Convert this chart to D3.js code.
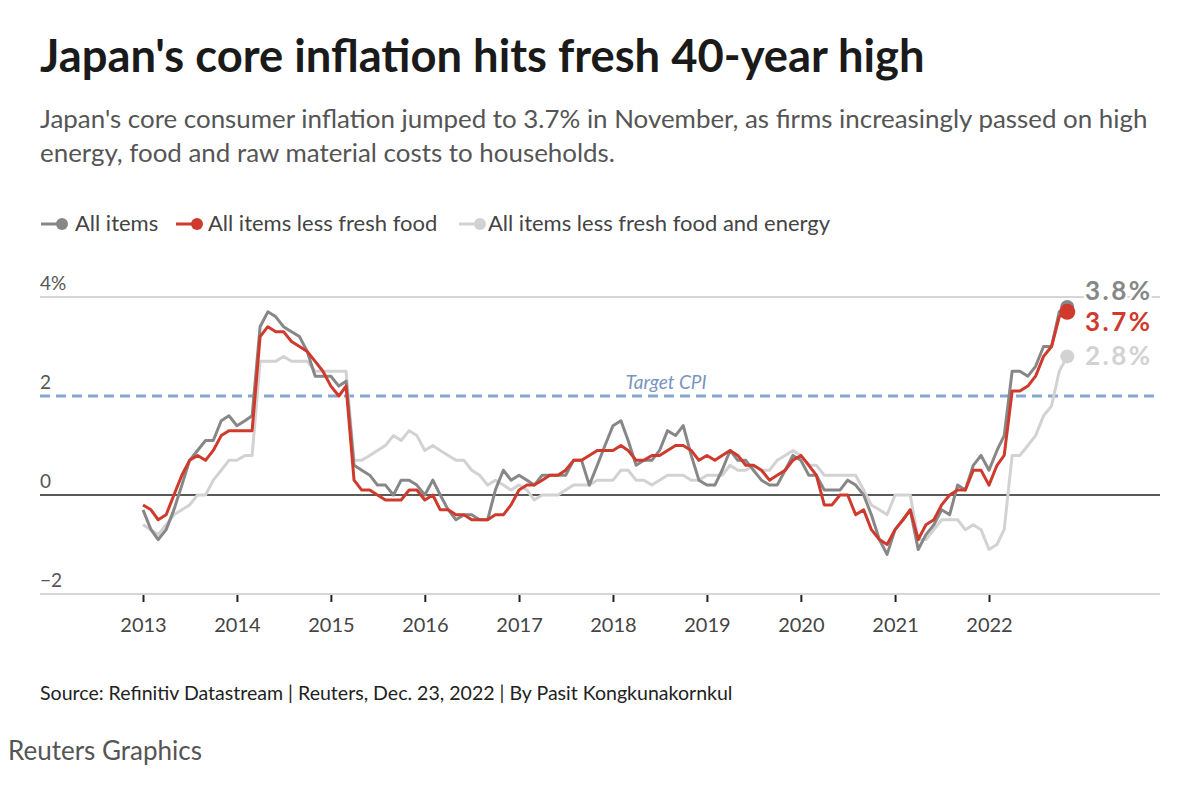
<!DOCTYPE html>
<html><head><meta charset="utf-8">
<script src="https://cdn.jsdelivr.net/npm/d3@7"></script>
<style>
body{margin:0;background:#fff;}
svg{display:block;font-family:Lato, "Source Sans Pro", sans-serif;}
</style></head><body>
<svg id="chart" width="1200" height="809"></svg>
<script>
// ---------- data ----------
const titleText = "Japan's core inflation hits fresh 40-year high";
const subtitleLines = [
  "Japan's core consumer inflation jumped to 3.7% in November, as firms increasingly passed on high",
  "energy, food and raw material costs to households."
];
const seriesNames = ["All items", "All items less fresh food", "All items less fresh food and energy"];
const startMonth = "2013-01";
// Monthly year-on-year % change, Jan 2013 – Nov 2022
const allItems = [
  -0.3,-0.7,-0.9,-0.7,-0.3,0.2,0.7,0.9,1.1,1.1,1.5,1.6,
  1.4,1.5,1.6,3.4,3.7,3.6,3.4,3.3,3.2,2.9,2.4,2.4,
  2.4,2.2,2.3,0.6,0.5,0.4,0.2,0.2,0.0,0.3,0.3,0.2,
  0.0,0.3,0.0,-0.3,-0.5,-0.4,-0.4,-0.5,-0.5,0.1,0.5,0.3,
  0.4,0.3,0.2,0.4,0.4,0.4,0.4,0.7,0.7,0.2,0.6,1.0,
  1.4,1.5,1.1,0.6,0.7,0.7,0.9,1.3,1.2,1.4,0.8,0.3,
  0.2,0.2,0.5,0.9,0.7,0.7,0.5,0.3,0.2,0.2,0.5,0.8,
  0.7,0.4,0.4,0.1,0.1,0.1,0.3,0.2,0.0,-0.4,-0.9,-1.2,
  -0.7,-0.5,-0.3,-1.1,-0.8,-0.6,-0.3,-0.4,0.2,0.1,0.6,0.8,
  0.5,0.9,1.2,2.5,2.5,2.4,2.6,3.0,3.0,3.7,3.8
];
const lessFreshFood = [
  -0.2,-0.3,-0.5,-0.4,0.0,0.4,0.7,0.8,0.7,0.9,1.2,1.3,
  1.3,1.3,1.3,3.2,3.4,3.3,3.3,3.1,3.0,2.9,2.7,2.5,
  2.2,2.0,2.2,0.3,0.1,0.1,0.0,-0.1,-0.1,-0.1,0.1,0.1,
  -0.1,0.0,-0.3,-0.3,-0.4,-0.4,-0.5,-0.5,-0.5,-0.4,-0.4,-0.2,
  0.1,0.2,0.2,0.3,0.4,0.4,0.5,0.7,0.7,0.8,0.9,0.9,
  0.9,1.0,0.9,0.7,0.7,0.8,0.8,0.9,1.0,1.0,0.9,0.7,
  0.8,0.7,0.8,0.9,0.8,0.6,0.6,0.5,0.3,0.4,0.5,0.7,
  0.8,0.6,0.4,-0.2,-0.2,0.0,0.0,-0.4,-0.3,-0.7,-0.9,-1.0,
  -0.7,-0.5,-0.3,-0.9,-0.6,-0.5,-0.2,0.0,0.1,0.1,0.5,0.5,
  0.2,0.6,0.8,2.1,2.1,2.2,2.4,2.8,3.0,3.6,3.7
];
const lessFreshFoodEnergy = [
  -0.6,-0.7,-0.8,-0.6,-0.4,-0.3,-0.2,0.0,0.0,0.3,0.5,0.7,
  0.7,0.8,0.8,2.7,2.7,2.7,2.8,2.7,2.7,2.7,2.5,2.5,
  2.5,2.5,2.5,0.7,0.7,0.8,0.9,1.0,1.2,1.1,1.3,1.2,
  0.9,1.0,0.9,0.8,0.7,0.7,0.5,0.4,0.2,0.3,0.2,0.1,
  0.2,0.1,-0.1,0.0,0.0,0.0,0.1,0.2,0.2,0.2,0.3,0.3,
  0.3,0.5,0.5,0.3,0.3,0.2,0.3,0.4,0.4,0.4,0.3,0.3,
  0.4,0.4,0.4,0.6,0.5,0.5,0.6,0.5,0.5,0.7,0.8,0.9,
  0.8,0.6,0.6,0.4,0.4,0.4,0.4,0.4,0.1,-0.2,-0.3,-0.4,
  0.0,0.0,0.0,-0.9,-0.9,-0.7,-0.5,-0.5,-0.5,-0.7,-0.6,-0.7,
  -1.1,-1.0,-0.7,0.8,0.8,1.0,1.2,1.6,1.8,2.5,2.8
];
const yTicks = [-2, 0, 2, 4];
const yTickLabels = ["\u22122", "0", "2", "4%"];
const xTickYears = [2013, 2014, 2015, 2016, 2017, 2018, 2019, 2020, 2021, 2022];
const targetValue = 2;
const targetLabel = "Target CPI";
const sourceText = "Source: Refinitiv Datastream | Reuters, Dec. 23, 2022 | By Pasit Kongkunakornkul";
const creditText = "Reuters Graphics";

// ---------- styles ----------
const colors = ["#878787", "#cf3a2d", "#d2d2d2"];
const svg = d3.select("#chart");
const L = 40, R = 1160;

function fit(sel, w) {
  const cur = sel.node().getComputedTextLength();
  const fs = parseFloat(sel.attr("font-size"));
  sel.attr("font-size", fs * w / cur);
  return fs * w / cur;
}

// ---------- header ----------
const t = svg.append("text").attr("x", 40).attr("y", 72).attr("font-size", 42)
  .attr("font-weight", 700).attr("fill", "#1a1a1a").text(titleText);
fit(t, 885);

const s1 = svg.append("text").attr("x", 40).attr("y", 128).attr("font-size", 22)
  .attr("fill", "#555").text(subtitleLines[0]);
const sfs = fit(s1, 1108);
svg.append("text").attr("x", 40).attr("y", 162).attr("font-size", sfs)
  .attr("fill", "#555").text(subtitleLines[1]);

// ---------- legend ----------
const legendX = [[41, 62, 75], [176, 197, 208], [459, 480, 488]];
seriesNames.forEach((n, i) => {
  const g = svg.append("g");
  g.append("line").attr("x1", legendX[i][0]).attr("x2", legendX[i][1]).attr("y1", 224).attr("y2", 224)
    .attr("stroke", colors[i]).attr("stroke-width", 3);
  g.append("circle").attr("cx", legendX[i][1]).attr("cy", 224).attr("r", 6).attr("fill", colors[i]);
  g.append("text").attr("x", legendX[i][2]).attr("y", 231).attr("font-size", 22)
    .attr("fill", "#444").text(n);
});

// ---------- scales ----------
const parse = d3.timeParse("%Y-%m");
const start = parse(startMonth);
const x = d3.scaleTime()
  .domain([new Date(2013, 0, 1), new Date(2022, 0, 1)])
  .range([143, 989]);
const y = d3.scaleLinear().domain([-2, 4]).range([594, 297]);

const seriesData = [allItems, lessFreshFood, lessFreshFoodEnergy].map(arr =>
  arr.map((v, i) => ({ date: d3.timeMonth.offset(start, i), value: v })));

// ---------- grid ----------
yTicks.forEach((v, i) => {
  if (v !== 0 && v !== targetValue) {
    svg.append("line").attr("x1", L).attr("x2", R).attr("y1", y(v)).attr("y2", y(v))
      .attr("stroke", "#c8c8c8").attr("stroke-width", 1.5);
  }
  svg.append("text").attr("x", L).attr("y", y(v) - 7).attr("font-size", 19)
    .attr("fill", "#555").text(yTickLabels[i]);
});

// x axis
const xAxis = d3.axisBottom(x)
  .tickValues(xTickYears.map(yr => new Date(yr, 0, 1)))
  .tickFormat(d3.timeFormat("%Y"))
  .tickSize(7).tickPadding(16);
const ax = svg.append("g").attr("transform", `translate(0,${y(-2) + 1})`).call(xAxis);
ax.select(".domain").remove();
ax.selectAll(".tick line").attr("stroke", "#222").attr("stroke-width", 2);
ax.selectAll(".tick text").attr("font-size", 20).attr("fill", "#444")
  .attr("font-family", "Lato, sans-serif");

// target line
svg.append("line").attr("x1", L).attr("x2", R).attr("y1", y(targetValue)).attr("y2", y(targetValue))
  .attr("stroke", "#86a5cf").attr("stroke-width", 3).attr("stroke-dasharray", "10,6");
svg.append("text").attr("x", 666).attr("y", y(targetValue) - 7).attr("text-anchor", "middle")
  .attr("font-size", 19).attr("font-style", "italic").attr("fill", "#7995c0").text(targetLabel);

// zero line
svg.append("line").attr("x1", L).attr("x2", R).attr("y1", y(0)).attr("y2", y(0))
  .attr("stroke", "#222").attr("stroke-width", 1.5);

// ---------- lines ----------
const line = d3.line().x(d => x(d.date)).y(d => y(d.value));
[2, 0, 1].forEach(i => {
  svg.append("path").datum(seriesData[i]).attr("d", line)
    .attr("fill", "none").attr("stroke", colors[i]).attr("stroke-width", 3)
    .attr("stroke-linejoin", "round");
});

// end dots and labels
const labelOffsets = [-7, 19, 9];
[2, 0, 1].forEach(i => {
  const last = seriesData[i][seriesData[i].length - 1];
  svg.append("circle").attr("cx", x(last.date)).attr("cy", y(last.value))
    .attr("r", i === 1 ? 8 : 7).attr("fill", colors[i]);
  svg.append("text").attr("x", 1085).attr("y", y(last.value) + labelOffsets[i])
    .attr("font-size", 26).attr("font-weight", 700).attr("letter-spacing", 2.5)
    .attr("fill", colors[i]).attr("stroke", "#fff").attr("stroke-width", 5)
    .attr("paint-order", "stroke").attr("stroke-linejoin", "round")
    .text(d3.format(".1f")(last.value) + "%");
});

// ---------- footer ----------
const src = svg.append("text").attr("x", 40).attr("y", 700).attr("font-size", 18)
  .attr("fill", "#222").text(sourceText);
fit(src, 693);
const cr = svg.append("text").attr("x", 8).attr("y", 760).attr("font-size", 24)
  .attr("fill", "#555").text(creditText);
fit(cr, 194);
</script>
</body></html>
